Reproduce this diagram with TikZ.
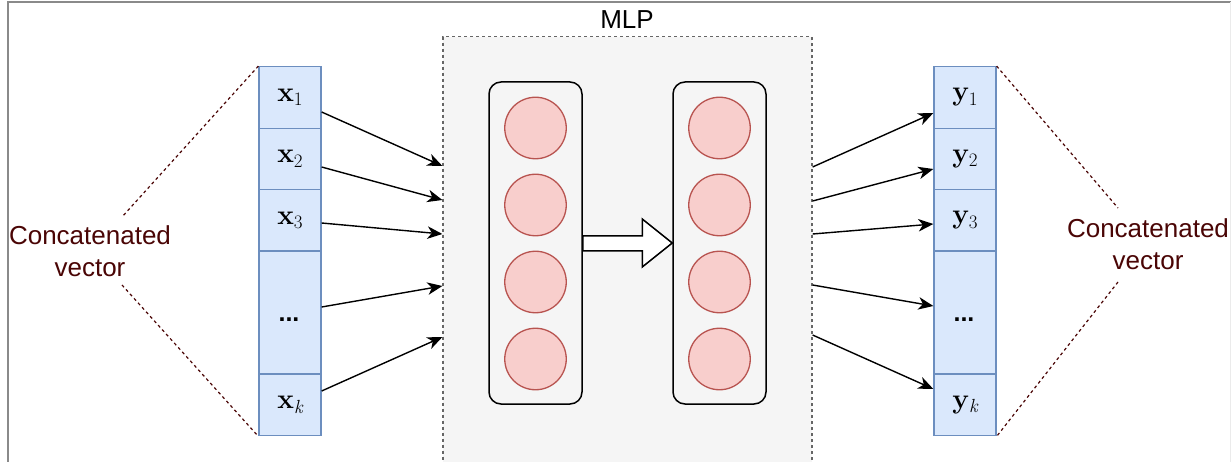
\RequirePackage{fix-cm}
\documentclass[tikz,border=0pt]{standalone}
\usepackage{fontspec}
\setsansfont{Liberation Sans}
\usetikzlibrary{arrows.meta,calc}

\definecolor{cellfill}{HTML}{DAE8FC}
\definecolor{celldraw}{HTML}{6C8EBF}
\definecolor{unitfill}{HTML}{F8CECC}
\definecolor{unitdraw}{HTML}{B85450}
\definecolor{mlpfill}{HTML}{F5F5F5}
\definecolor{mlpdraw}{HTML}{666666}
\definecolor{darkred}{HTML}{4A0505}
\definecolor{framegray}{HTML}{8A8A8A}

% bold vector name with a subscript index, set in text fonts
\newcommand{\veclab}[2]{{\bfseries #1}\raisebox{-4.5pt}{\fontsize{19}{19}\selectfont #2}}

\tikzset{
  cell/.style={rectangle, draw=celldraw, fill=cellfill, line width=1.3pt,
    minimum width=62pt, inner sep=0pt, font=\fontsize{28}{32}\selectfont},
  unit/.style={circle, draw=unitdraw, fill=unitfill, line width=1.3pt,
    minimum size=61.5pt, inner sep=0pt},
  layerbox/.style={rectangle, rounded corners=12pt, draw=black, line width=1.5pt,
    minimum width=93pt, minimum height=322pt, inner sep=0pt},
  link/.style={draw=black, line width=1.4pt,
    -{Stealth[length=15pt, width=12.5pt, inset=4.5pt]}},
  brace/.style={draw=darkred, line width=1.2pt, dash pattern=on 3pt off 3pt},
  caption/.style={font=\sffamily\fontsize{26}{32}\selectfont, text=darkred, align=center},
  dots/.style={font=\sffamily\bfseries\fontsize{25}{28}\selectfont},
}

\begin{document}
\begin{tikzpicture}[x=1pt, y=-1pt]
  \clip (0,0) rectangle (1231,462);
  \fill[white] (0,0) rectangle (1231,462);

  % canvas frame
  \draw[framegray, line width=1.5pt] (8,470) -- (8,2) -- (1235,2);
  \draw[black!8, line width=1pt] (1230,2) -- (1230,470);

  % MLP container
  \node[rectangle, draw=mlpdraw, fill=mlpfill, line width=1.2pt,
        dash pattern=on 3pt off 3pt, minimum width=369pt, minimum height=450pt,
        anchor=north, inner sep=0pt] (mlp) at (627.5,36) {};
  \node[font=\sffamily\fontsize{26}{28}\selectfont] (mlplabel) at (627,20) {MLP};

  % hidden layers
  \node[layerbox] (L1) at (535.5,243) {};
  \node[layerbox] (L2) at (719.5,243) {};
  \foreach \i/\yy in {1/128,2/205,3/282,4/359}{
    \node[unit] (a\i) at (535.5,\yy) {};
    \node[unit] (b\i) at (719.5,\yy) {};
  }

  % block arrow between the layers
  \draw[fill=white, line width=1.5pt, line join=miter]
    ($(L1.east)+(0,-7)$) -- ($(L2.west)+(-30,-7)$) -- ($(L2.west)+(-30,-24)$)
    -- (L2.west) -- ($(L2.west)+(-30,24)$) -- ($(L2.west)+(-30,8)$)
    -- ($(L1.east)+(0,8)$) -- cycle;

  % input vector
  \node[cell, minimum height=61.5pt] (x1) at (290,97.5)  {};
  \node[cell, minimum height=61.5pt] (x2) at (290,159)   {};
  \node[cell, minimum height=61.5pt] (x3) at (290,220.5) {};
  \node[cell, minimum height=123pt]  (xd) at (290,312.5) {};
  \node[cell, minimum height=61.5pt] (xk) at (290,405)   {};
  \node[cell, draw=none, fill=none] at (x1) {\veclab{x}{1}};
  \node[cell, draw=none, fill=none] at (x2) {\veclab{x}{2}};
  \node[cell, draw=none, fill=none] at (x3) {\veclab{x}{3}};
  \node[cell, draw=none, fill=none] at (xk) {\veclab{x}{\itshape k}};
  \node[dots] (xdots) at (289,320) {...};

  % output vector
  \node[cell, minimum height=61.5pt] (y1) at (965,97.5)  {};
  \node[cell, minimum height=61.5pt] (y2) at (965,159)   {};
  \node[cell, minimum height=61.5pt] (y3) at (965,220.5) {};
  \node[cell, minimum height=123pt]  (yd) at (965,312.5) {};
  \node[cell, minimum height=61.5pt] (yk) at (965,405)   {};
  \node[cell, draw=none, fill=none] at (y1) {\veclab{y}{1}};
  \node[cell, draw=none, fill=none] at (y2) {\veclab{y}{2}};
  \node[cell, draw=none, fill=none] at (y3) {\veclab{y}{3}};
  \node[cell, draw=none, fill=none] at (yk) {\veclab{y}{\itshape k}};
  \node[dots] (ydots) at (964,320) {...};

  % entry and exit points on the MLP border
  \foreach \n/\yy in {1/166,2/200,3/234,4/286,5/337}{
    \coordinate (in\n) at (mlp.west |- 0,\yy);
  }
  \foreach \n/\yy in {1/167,2/201,3/234,4/285,5/335}{
    \coordinate (out\n) at (mlp.east |- 0,\yy);
  }

  % connectors into the MLP
  \draw[link] ($(x1.east)+(0,14.5)$) -- (in1);
  \draw[link] ($(x2.east)+(0,8)$)    -- (in2);
  \draw[link] ($(x3.east)+(0,2.5)$)  -- (in3);
  \draw[link] ($(xd.east)+(0,-5.5)$) -- (in4);
  \draw[link] ($(xk.east)+(0,-14)$)  -- (in5);

  % connectors out of the MLP
  \draw[link] (out1) -- ($(y1.west)+(0,15.5)$);
  \draw[link] (out2) -- ($(y2.west)+(0,10)$);
  \draw[link] (out3) -- ($(y3.west)+(0,3.5)$);
  \draw[link] (out4) -- ($(yd.west)+(0,-6.5)$);
  \draw[link] (out5) -- ($(yk.west)+(0,-16)$);

  % captions with their dashed guides
  \node[caption] (capL) at (90,251) {Concatenated\\vector};
  \node[caption] (capR) at (1148,244) {Concatenated\\vector};
  \coordinate (gl1) at (122,217);
  \coordinate (gl2) at (122,285);
  \coordinate (gr1) at (1118,208);
  \coordinate (gr2) at (1118,282);
  \draw[brace] (x1.north west) -- (gl1);
  \draw[brace] (gl2) -- (xk.south west);
  \draw[brace] (y1.north east) -- (gr1);
  \draw[brace] (gr2) -- (yk.south east);
\end{tikzpicture}
\end{document}
